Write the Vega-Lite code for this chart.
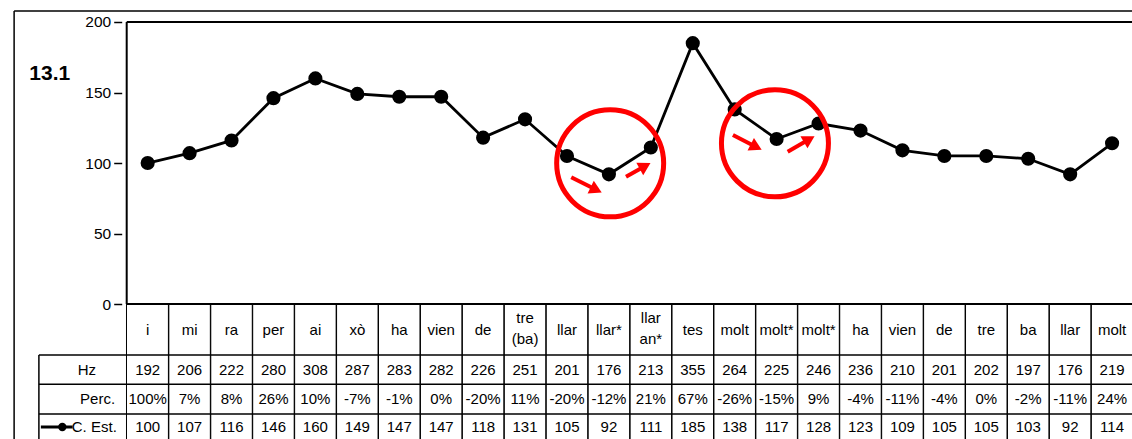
{
  "$schema": "https://vega.github.io/schema/vega-lite/v6.json",
  "width": 1010.3,
  "height": 439,
  "padding": {"left": 121.7, "top": 0, "right": 0, "bottom": 0},
  "autosize": {"type": "none"},
  "background": "white",
  "config": {
    "view": {"stroke": null},
    "text": {"font": "Liberation Sans, Arial, sans-serif", "fontSize": 15, "color": "black"}
  },
  "resolve": {"axis": {"y": "independent", "x": "independent"}},
  "datasets": {
    "syl": [
      {"syl": "i", "hz": 192, "perc": "100%", "cest": 100},
      {"syl": "mi", "hz": 206, "perc": "7%", "cest": 107},
      {"syl": "ra", "hz": 222, "perc": "8%", "cest": 116},
      {"syl": "per", "hz": 280, "perc": "26%", "cest": 146},
      {"syl": "ai", "hz": 308, "perc": "10%", "cest": 160},
      {"syl": "xò", "hz": 287, "perc": "-7%", "cest": 149},
      {"syl": "ha", "hz": 283, "perc": "-1%", "cest": 147},
      {"syl": "vien", "hz": 282, "perc": "0%", "cest": 147},
      {"syl": "de", "hz": 226, "perc": "-20%", "cest": 118},
      {"syl": "tre\n(ba)", "hz": 251, "perc": "11%", "cest": 131},
      {"syl": "llar", "hz": 201, "perc": "-20%", "cest": 105},
      {"syl": "llar*", "hz": 176, "perc": "-12%", "cest": 92},
      {"syl": "llar\nan*", "hz": 213, "perc": "21%", "cest": 111},
      {"syl": "tes", "hz": 355, "perc": "67%", "cest": 185},
      {"syl": "molt", "hz": 264, "perc": "-26%", "cest": 138},
      {"syl": "molt*", "hz": 225, "perc": "-15%", "cest": 117},
      {"syl": "molt*", "hz": 246, "perc": "9%", "cest": 128},
      {"syl": "ha", "hz": 236, "perc": "-4%", "cest": 123},
      {"syl": "vien", "hz": 210, "perc": "-11%", "cest": 109},
      {"syl": "de", "hz": 201, "perc": "-4%", "cest": 105},
      {"syl": "tre", "hz": 202, "perc": "0%", "cest": 105},
      {"syl": "ba", "hz": 197, "perc": "-2%", "cest": 103},
      {"syl": "llar", "hz": 176, "perc": "-11%", "cest": 92},
      {"syl": "molt", "hz": 219, "perc": "24%", "cest": 114}
    ],
    "one": [{"a": 1}]
  },
  "layer": [
    {
      "data": {"name": "syl"},
      "transform": [{"window": [{"op": "row_number", "as": "n"}]}],
      "mark": {"type": "line", "color": "black", "strokeWidth": 2.8},
      "encoding": {
        "x": {"field": "n", "type": "quantitative", "scale": {"domain": [0.5, 24.356], "nice": false, "zero": false}, "axis": null},
        "y": {
          "field": "cest", "type": "quantitative",
          "scale": {"domain": [-95.7, 215.6], "nice": false, "zero": false},
          "axis": {
            "orient": "left", "values": [0, 50, 100, 150, 200],
            "domain": false, "grid": false, "title": null,
            "tickSize": 8, "tickColor": "black", "tickWidth": 1.5,
            "labelFont": "Liberation Sans, Arial, sans-serif",
            "labelFontSize": 15.5, "labelColor": "black", "labelPadding": 3
          }
        }
      }
    },
    {
      "data": {"name": "syl"},
      "transform": [{"window": [{"op": "row_number", "as": "n"}]}],
      "mark": {"type": "point", "filled": true, "color": "black", "opacity": 1, "size": 200},
      "encoding": {"x": {"field": "n", "type": "quantitative", "axis": null}, "y": {"field": "cest", "type": "quantitative", "axis": null}}
    },
    {
      "data": {"name": "syl"},
      "transform": [{"window": [{"op": "row_number", "as": "n"}]}],
      "mark": {"type": "bar", "fill": "transparent", "stroke": "black", "strokeWidth": 1},
      "encoding": {
        "x": {"field": "n", "type": "quantitative", "axis": null},
        "size": {"value": 42.35},
        "y": {"datum": 0, "type": "quantitative", "axis": null},
        "y2": {"datum": -110}
      }
    },
    {
      "data": {"name": "syl"},
      "transform": [{"window": [{"op": "row_number", "as": "n"}]}, {"filter": "indexof(datum.syl, '\\n') < 0"}],
      "mark": {"type": "text", "baseline": "middle", "align": "center"},
      "encoding": {"x": {"field": "n", "type": "quantitative", "axis": null}, "text": {"field": "syl"}, "y": {"datum": -18.1, "type": "quantitative", "axis": null}}
    },
    {
      "data": {"name": "syl"},
      "transform": [{"window": [{"op": "row_number", "as": "n"}]}, {"filter": "indexof(datum.syl, '\\n') >= 0"}],
      "mark": {"type": "text", "lineBreak": "\n", "lineHeight": 21, "baseline": "middle", "align": "center"},
      "encoding": {"x": {"field": "n", "type": "quantitative", "axis": null}, "text": {"field": "syl"}, "y": {"datum": -9.9, "type": "quantitative", "axis": null}}
    },
    {
      "data": {"name": "syl"},
      "transform": [{"window": [{"op": "row_number", "as": "n"}]}],
      "mark": {"type": "text", "baseline": "middle", "align": "center"},
      "encoding": {"x": {"field": "n", "type": "quantitative", "axis": null}, "text": {"field": "hz"}, "y": {"datum": -46.6, "type": "quantitative", "axis": null}}
    },
    {
      "data": {"name": "syl"},
      "transform": [{"window": [{"op": "row_number", "as": "n"}]}],
      "mark": {"type": "text", "baseline": "middle", "align": "center"},
      "encoding": {"x": {"field": "n", "type": "quantitative", "axis": null}, "text": {"field": "perc"}, "y": {"datum": -67.4, "type": "quantitative", "axis": null}}
    },
    {
      "data": {"name": "syl"},
      "transform": [{"window": [{"op": "row_number", "as": "n"}]}],
      "mark": {"type": "text", "baseline": "middle", "align": "center"},
      "encoding": {"x": {"field": "n", "type": "quantitative", "axis": null}, "text": {"field": "cest"}, "y": {"datum": -87.2, "type": "quantitative", "axis": null}}
    },
    {
      "data": {"name": "one"},
      "mark": {"type": "rule", "color": "black", "strokeWidth": 1.5},
      "encoding": {"x": {"datum": -2.185, "type": "quantitative", "axis": null}, "x2": {"datum": 24.6}, "y": {"datum": 207.8, "type": "quantitative", "axis": null}}
    },
    {
      "data": {"name": "one"},
      "mark": {"type": "rule", "color": "black", "strokeWidth": 1.5},
      "encoding": {"x": {"datum": -2.185, "type": "quantitative", "axis": null}, "y": {"datum": 207.8, "type": "quantitative", "axis": null}, "y2": {"datum": -110}}
    },
    {
      "data": {"name": "one"},
      "mark": {"type": "rule", "color": "black", "strokeWidth": 2},
      "encoding": {"x": {"datum": 0.5, "type": "quantitative", "axis": null}, "x2": {"datum": 24.6}, "y": {"datum": 200, "type": "quantitative", "axis": null}}
    },
    {
      "data": {"name": "one"},
      "mark": {"type": "rule", "color": "black", "strokeWidth": 2},
      "encoding": {"x": {"datum": 0.5, "type": "quantitative", "axis": null}, "y": {"datum": 200, "type": "quantitative", "axis": null}, "y2": {"datum": 0}}
    },
    {
      "data": {"name": "one"},
      "mark": {"type": "rule", "color": "black", "strokeWidth": 2},
      "encoding": {"x": {"datum": 0.5, "type": "quantitative", "axis": null}, "x2": {"datum": 24.6}, "y": {"datum": 0, "type": "quantitative", "axis": null}}
    },
    {
      "data": {"name": "one"},
      "mark": {"type": "rule", "color": "black", "strokeWidth": 1.5},
      "encoding": {"x": {"datum": -1.594, "type": "quantitative", "axis": null}, "x2": {"datum": 24.6}, "y": {"datum": -36.2, "type": "quantitative", "axis": null}}
    },
    {
      "data": {"name": "one"},
      "mark": {"type": "rule", "color": "black", "strokeWidth": 1.5},
      "encoding": {"x": {"datum": -1.594, "type": "quantitative", "axis": null}, "x2": {"datum": 24.6}, "y": {"datum": -56.9, "type": "quantitative", "axis": null}}
    },
    {
      "data": {"name": "one"},
      "mark": {"type": "rule", "color": "black", "strokeWidth": 1.5},
      "encoding": {"x": {"datum": -1.594, "type": "quantitative", "axis": null}, "x2": {"datum": 24.6}, "y": {"datum": -78.0, "type": "quantitative", "axis": null}}
    },
    {
      "data": {"name": "one"},
      "mark": {"type": "rule", "color": "black", "strokeWidth": 1.5},
      "encoding": {"x": {"datum": -1.594, "type": "quantitative", "axis": null}, "y": {"datum": -36.2, "type": "quantitative", "axis": null}, "y2": {"datum": -110}}
    },
    {
      "data": {"name": "one"},
      "mark": {"type": "text", "align": "center", "baseline": "middle"},
      "encoding": {"text": {"value": "Hz"}, "x": {"datum": -0.449, "type": "quantitative", "axis": null}, "y": {"datum": -46.6, "type": "quantitative", "axis": null}}
    },
    {
      "data": {"name": "one"},
      "mark": {"type": "text", "align": "right", "baseline": "middle"},
      "encoding": {"text": {"value": "Perc."}, "x": {"datum": 0.224, "type": "quantitative", "axis": null}, "y": {"datum": -67.4, "type": "quantitative", "axis": null}}
    },
    {
      "data": {"name": "one"},
      "mark": {"type": "text", "align": "right", "baseline": "middle"},
      "encoding": {"text": {"value": "C. Est."}, "x": {"datum": 0.264, "type": "quantitative", "axis": null}, "y": {"datum": -87.2, "type": "quantitative", "axis": null}}
    },
    {
      "data": {"name": "one"},
      "mark": {"type": "rule", "color": "black", "strokeWidth": 2.8},
      "encoding": {"x": {"datum": -1.547, "type": "quantitative", "axis": null}, "x2": {"datum": -0.79}, "y": {"datum": -87.2, "type": "quantitative", "axis": null}}
    },
    {
      "data": {"name": "one"},
      "mark": {"type": "point", "filled": true, "color": "black", "opacity": 1, "size": 70},
      "encoding": {"x": {"datum": -1.035, "type": "quantitative", "axis": null}, "y": {"datum": -87.2, "type": "quantitative", "axis": null}}
    },
    {
      "data": {"name": "one"},
      "mark": {"type": "text", "align": "center", "baseline": "middle", "fontWeight": "bold", "fontSize": 21},
      "encoding": {"text": {"value": "13.1"}, "x": {"datum": -1.335, "type": "quantitative", "axis": null}, "y": {"datum": 163.1, "type": "quantitative", "axis": null}}
    },
    {
      "data": {"name": "one"},
      "mark": {"type": "point", "shape": "circle", "filled": false, "stroke": "#FF0000", "strokeWidth": 5, "opacity": 1, "size": 11449},
      "encoding": {"x": {"datum": 12.03, "type": "quantitative", "axis": null}, "y": {"datum": 99.8, "type": "quantitative", "axis": null}}
    },
    {
      "data": {"name": "one"},
      "mark": {"type": "point", "shape": "circle", "filled": false, "stroke": "#FF0000", "strokeWidth": 5, "opacity": 1, "size": 11449},
      "encoding": {"x": {"datum": 15.96, "type": "quantitative", "axis": null}, "y": {"datum": 114.0, "type": "quantitative", "axis": null}}
    },
    {
      "data": {"name": "one"},
      "mark": {"type": "rule", "color": "#FF0000", "strokeWidth": 4},
      "encoding": {"x": {"datum": 11.102, "type": "quantitative", "axis": null}, "y": {"datum": 89.9, "type": "quantitative", "axis": null}, "x2": {"datum": 11.697}, "y2": {"datum": 81.0}}
    },
    {
      "data": {"name": "one"},
      "mark": {"type": "point", "shape": "triangle-right", "filled": true, "color": "#FF0000", "opacity": 1, "size": 200, "angle": 26},
      "encoding": {"x": {"datum": 11.697, "type": "quantitative", "axis": null}, "y": {"datum": 81.0, "type": "quantitative", "axis": null}}
    },
    {
      "data": {"name": "one"},
      "mark": {"type": "rule", "color": "#FF0000", "strokeWidth": 4},
      "encoding": {"x": {"datum": 12.408, "type": "quantitative", "axis": null}, "y": {"datum": 90.3, "type": "quantitative", "axis": null}, "x2": {"datum": 12.864}, "y2": {"datum": 97.9}}
    },
    {
      "data": {"name": "one"},
      "mark": {"type": "point", "shape": "triangle-right", "filled": true, "color": "#FF0000", "opacity": 1, "size": 200, "angle": -29},
      "encoding": {"x": {"datum": 12.864, "type": "quantitative", "axis": null}, "y": {"datum": 97.9, "type": "quantitative", "axis": null}}
    },
    {
      "data": {"name": "one"},
      "mark": {"type": "rule", "color": "#FF0000", "strokeWidth": 4},
      "encoding": {"x": {"datum": 14.958, "type": "quantitative", "axis": null}, "y": {"datum": 119.9, "type": "quantitative", "axis": null}, "x2": {"datum": 15.513}, "y2": {"datum": 111.3}}
    },
    {
      "data": {"name": "one"},
      "mark": {"type": "point", "shape": "triangle-right", "filled": true, "color": "#FF0000", "opacity": 1, "size": 200, "angle": 27},
      "encoding": {"x": {"datum": 15.513, "type": "quantitative", "axis": null}, "y": {"datum": 111.3, "type": "quantitative", "axis": null}}
    },
    {
      "data": {"name": "one"},
      "mark": {"type": "rule", "color": "#FF0000", "strokeWidth": 4},
      "encoding": {"x": {"datum": 16.264, "type": "quantitative", "axis": null}, "y": {"datum": 108.0, "type": "quantitative", "axis": null}, "x2": {"datum": 16.778}, "y2": {"datum": 116.9}}
    },
    {
      "data": {"name": "one"},
      "mark": {"type": "point", "shape": "triangle-right", "filled": true, "color": "#FF0000", "opacity": 1, "size": 200, "angle": -30},
      "encoding": {"x": {"datum": 16.778, "type": "quantitative", "axis": null}, "y": {"datum": 116.9, "type": "quantitative", "axis": null}}
    }
  ]
}
